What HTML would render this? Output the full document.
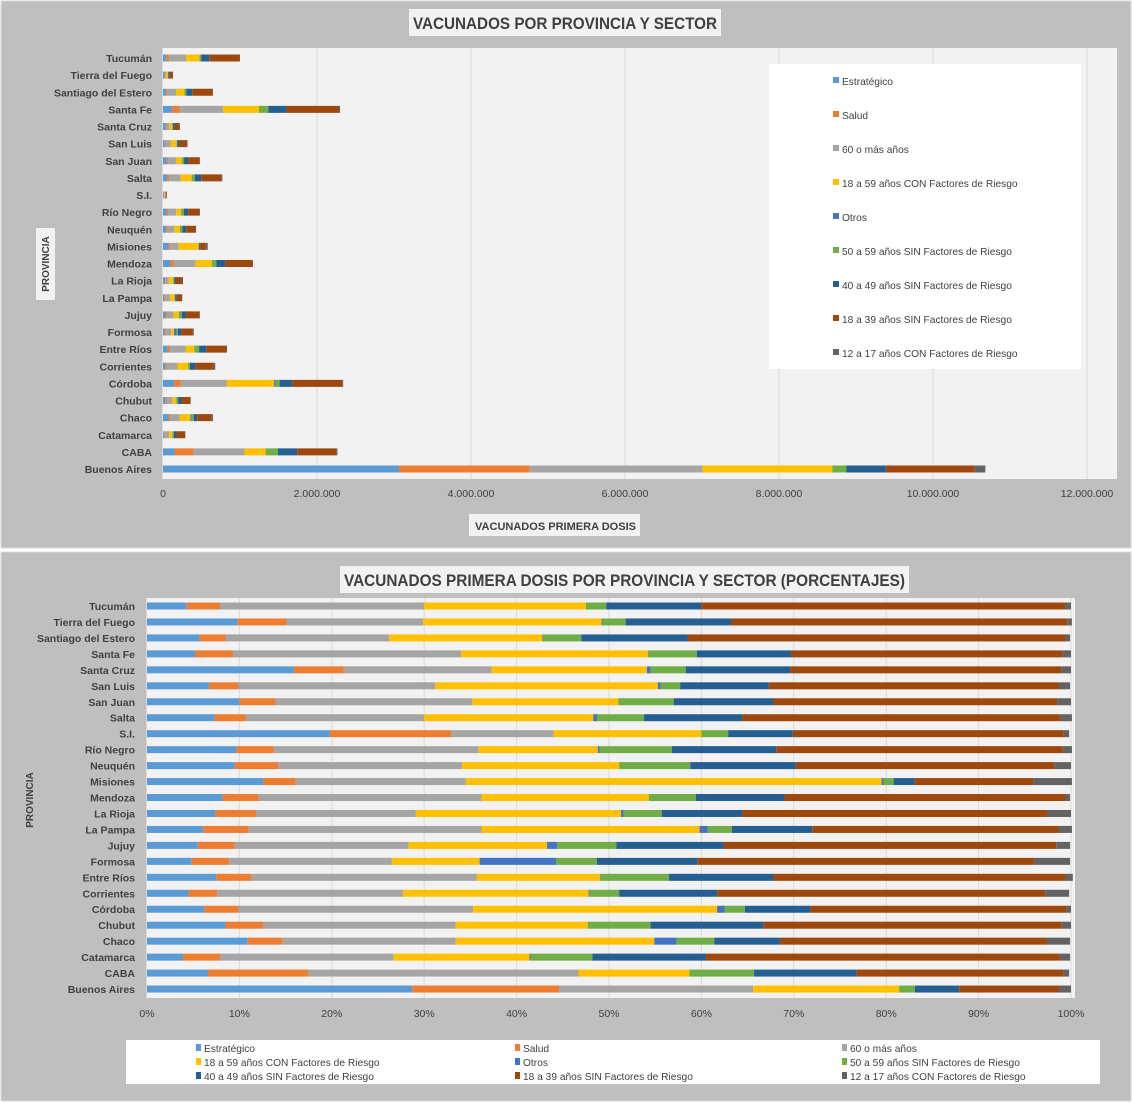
<!DOCTYPE html>
<html><head><meta charset="utf-8"><style>
body{margin:0;background:#fff;}
svg{display:block;font-family:"Liberation Sans Narrow","Liberation Sans",sans-serif;}
</style></head><body>
<svg id="svg" width="1132" height="1103" viewBox="0 0 1132 1103" xmlns="http://www.w3.org/2000/svg">
<rect x="0" y="0" width="1132" height="1103" fill="#ffffff"/>
<rect x="1" y="1" width="1130" height="547" fill="#bfbfbf" stroke="#d9d9d9"/>
<rect x="1" y="552" width="1130" height="549" fill="#bfbfbf" stroke="#d9d9d9"/>
<rect x="162" y="48" width="955" height="431" fill="#f2f2f2"/>
<rect x="147" y="598" width="928" height="400" fill="#f2f2f2"/>
<g id="top"></g>
<g id="bot"></g>
<rect x="409" y="9" width="312" height="27" fill="#f2f2f2"/>
<text x="413" y="29" textLength="304" lengthAdjust="spacingAndGlyphs" font-size="17" font-weight="bold" fill="#404040">VACUNADOS POR PROVINCIA Y SECTOR</text>
<rect x="469" y="514" width="171" height="22" fill="#f2f2f2"/>
<text x="475" y="530" textLength="161" lengthAdjust="spacingAndGlyphs" font-size="11" font-weight="bold" fill="#404040">VACUNADOS PRIMERA  DOSIS</text>
<rect x="36" y="228" width="19" height="72" fill="#f2f2f2"/>
<text transform="translate(49,264) rotate(-90)" text-anchor="middle" font-size="10" font-weight="bold" fill="#404040">PROVINCIA</text>
<rect x="769" y="64" width="312" height="305" fill="#ffffff"/>
<rect x="340" y="566" width="569" height="27" fill="#f2f2f2"/>
<text x="344" y="586" textLength="561" lengthAdjust="spacingAndGlyphs" font-size="17" font-weight="bold" fill="#404040">VACUNADOS PRIMERA DOSIS POR PROVINCIA Y SECTOR (PORCENTAJES)</text>
<text transform="translate(33,800) rotate(-90)" text-anchor="middle" font-size="10" font-weight="bold" fill="#404040">PROVINCIA</text>
<rect x="126" y="1040" width="974" height="44" fill="#ffffff"/>
</svg>
<script>
const provinces=["Tucumán","Tierra del Fuego","Santiago del Estero","Santa Fe","Santa Cruz","San Luis","San Juan","Salta","S.I.","Río Negro","Neuquén","Misiones","Mendoza","La Rioja","La Pampa","Jujuy","Formosa","Entre Ríos","Corrientes","Córdoba","Chubut","Chaco","Catamarca","CABA","Buenos Aires"];
const totals=[1000000,130000,650000,2300000,220000,320000,480000,770000,50000,480000,430000,580000,1170000,260000,250000,480000,400000,830000,680000,2340000,360000,650000,290000,2270000,10680000];
const seriesNames=["Estratégico","Salud","60 o más años","18 a 59 años CON Factores de Riesgo","Otros","50 a 59 años SIN Factores de Riesgo","40 a 49 años SIN Factores de Riesgo","18 a 39 años SIN Factores de Riesgo","12 a 17 años CON Factores de Riesgo"];
const pctEstrategico=[4.3,9.8,5.7,5.2,15.9,6.7,10.0,7.3,19.8,9.7,9.5,12.6,8.2,7.4,6.1,5.5,4.8,7.5,4.5,6.2,8.5,10.9,3.9,6.6,28.7];
const pctSalud=[3.6,5.3,2.8,4.1,5.4,3.2,3.9,3.4,13.1,4.0,4.7,3.5,3.9,4.4,4.9,4.0,4.1,3.8,3.1,3.7,4.1,3.8,4.0,10.9,15.9];
const pct60=[22.1,14.8,17.7,24.7,16.0,21.3,21.3,19.3,11.1,22.2,19.9,18.4,24.1,17.3,25.2,18.8,17.6,24.4,20.1,25.4,20.8,18.7,18.8,29.2,21.0];
const pct18a59Con=[17.5,19.3,16.6,20.2,16.8,24.1,15.8,18.3,16.0,12.9,17.0,45.0,18.1,22.2,23.6,15.0,9.5,13.3,20.1,26.4,14.3,21.5,14.7,12.0,15.8];
const pctOtros=[0,0.1,0.1,0,0.4,0.3,0,0.4,0,0.2,0,0.2,0,0.3,0.9,1.1,8.3,0,0.1,0.8,0,2.4,0.1,0,0];
const pct50a59=[2.2,2.5,4.1,5.3,3.8,2.1,6.0,5.1,2.9,7.8,7.7,1.1,5.1,4.1,2.6,6.4,4.4,7.5,3.2,2.2,6.8,4.1,6.7,7.0,1.7];
const pct40a49=[10.3,11.4,11.5,10.2,11.3,9.6,10.8,10.6,7.0,11.3,11.4,2.3,9.6,8.7,8.7,11.6,10.9,11.3,10.6,7.1,12.2,7.1,12.3,11.1,4.8];
const pct18a39=[39.4,36.4,40.9,29.4,29.4,31.4,30.7,34.4,29.3,31.0,28.0,12.8,30.4,33.0,26.7,36.0,36.4,31.6,35.5,27.7,32.3,28.9,38.3,22.4,10.8];
const pct12a17=[0.6,0.5,0.5,0.9,1.0,1.2,1.5,1.3,0.6,1.0,1.8,4.2,0.5,2.6,1.4,1.5,3.9,0.8,2.6,0.5,1.0,2.5,1.1,0.6,1.3];
const topTicks=["0","2.000.000","4.000.000","6.000.000","8.000.000","10.000.000","12.000.000"];
const topTickValues=[0,2000000,4000000,6000000,8000000,10000000,12000000];
const pctTicks=["0%","10%","20%","30%","40%","50%","60%","70%","80%","90%","100%"];
const pctTickValues=[0,10,20,30,40,50,60,70,80,90,100];
const colors=["#5b9bd5","#ed7d31","#a5a5a5","#ffc000","#4472c4","#70ad47","#255e91","#9e480e","#636363"];
const NS="http://www.w3.org/2000/svg";
const series=[pctEstrategico,pctSalud,pct60,pct18a59Con,pctOtros,pct50a59,pct40a49,pct18a39,pct12a17];
function mk(tag,attrs,parent){const e=document.createElementNS(NS,tag);for(const k in attrs)e.setAttribute(k,attrs[k]);parent.appendChild(e);return e;}
const xTop=v=>163+v/12000000*924;
const yTop=i=>58+i*17.125;
const xBot=p=>147+p/100*924;
const yBot=i=>606+i*15.96;
const gT=document.getElementById('top'),gB=document.getElementById('bot'),svg=document.getElementById('svg');
topTickValues.forEach((v,i)=>{
 if(i>0){const l=mk('line',{x1:xTop(v),x2:xTop(v),y1:48,y2:479,stroke:'#d9d9d9'},gT);
 
 }
 const t=mk('text',{x:xTop(v),y:497,'text-anchor':'middle','font-size':10.5,fill:'#404040'},gT);t.textContent=topTicks[i];
 
 
});
const ax=mk('line',{x1:162.5,x2:162.5,y1:48,y2:479,stroke:'#d9d9d9'},gT);


pctTickValues.forEach((v,i)=>{
 if(i>0){const l=mk('line',{x1:xBot(v),x2:xBot(v),y1:598,y2:998,stroke:'#d9d9d9'},gB);
 
 }
 const t=mk('text',{x:xBot(v),y:1017,'text-anchor':'middle','font-size':10.5,fill:'#404040'},gB);t.textContent=pctTicks[i];
 
 
});
const ax2=mk('line',{x1:146.5,x2:146.5,y1:598,y2:998,stroke:'#d9d9d9'},gB);


provinces.forEach((p,i)=>{
 const t1=mk('text',{x:152,y:yTop(i)+4,'text-anchor':'end','font-size':10.5,'font-weight':'bold',fill:'#404040'},gT);t1.textContent=p;
 
 
 const t2=mk('text',{x:135,y:yBot(i)+4,'text-anchor':'end','font-size':10.5,'font-weight':'bold',fill:'#404040'},gB);t2.textContent=p;
 
 
 let cumV=0,cumP=0;
 series.forEach((s,k)=>{
  const v=totals[i]*s[i]/100;
  if(v>0){const r=mk('rect',{x:xTop(cumV),y:yTop(i)-3.5,width:xTop(cumV+v)-xTop(cumV),height:7,fill:colors[k]},gT);
  
  }
  cumV+=v;
  if(s[i]>0){const r2=mk('rect',{x:xBot(cumP),y:yBot(i)-3.5,width:xBot(cumP+s[i])-xBot(cumP),height:7,fill:colors[k]},gB);
  
  }
  cumP+=s[i];
 });
});
seriesNames.forEach((n,k)=>{
 const y=81+k*34;
 const sq=mk('rect',{x:833,y:y-4,width:6,height:6,fill:colors[k]},svg);
 
 
 const t=mk('text',{x:842,y:y+4,'font-size':10.2,fill:'#404040'},svg);t.textContent=n;
 
 
 const cx=[196,515,842][k%3],cy=1048+Math.floor(k/3)*14;
 const sq2=mk('rect',{x:cx,y:cy-4,width:5,height:7,fill:colors[k]},svg);
 
 
 const t2=mk('text',{x:cx+8,y:cy+4,'font-size':10.2,fill:'#404040'},svg);t2.textContent=n;
 
 
});
</script>
</body></html>
